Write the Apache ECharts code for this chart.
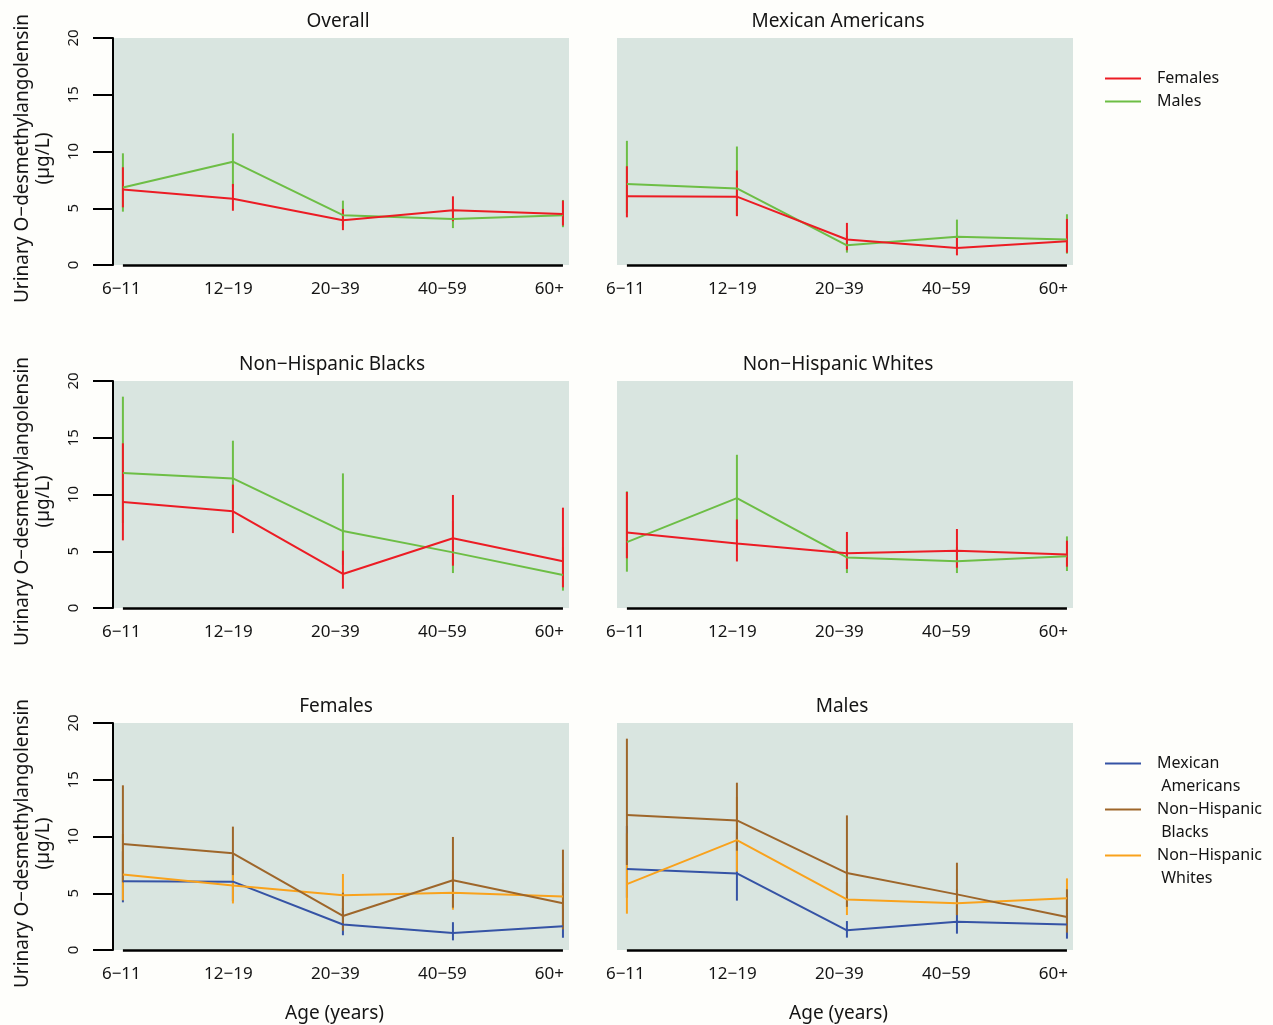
<!DOCTYPE html>
<html>
<head>
<meta charset="utf-8">
<title>Urinary O-desmethylangolensin by age group</title>
<script src="https://cdn.jsdelivr.net/npm/echarts@6/dist/echarts.min.js"></script>
<style>
  html, body { margin: 0; padding: 0; background: #fefefb; }
  #chart { width: 1273px; height: 1025px; }
</style>
</head>
<body>
<div id="chart"></div>
<script>
// Age groups on the x axis
const ageGroups = ['6\u221211', '12\u221219', '20\u221239', '40\u221259', '60+'];
const yTicks = [0, 5, 10, 15, 20];

// Overall
const overallFemales     = [6.65, 5.83, 3.95, 4.82, 4.50];
const overallFemalesLow  = [5.08, 4.78, 3.07, 3.86, 3.48];
const overallFemalesHigh = [8.61, 7.14, 4.94, 6.05, 5.67];
const overallMales       = [6.82, 9.10, 4.39, 4.06, 4.39];
const overallMalesLow    = [4.70, 6.90, 3.40, 3.25, 3.33];
const overallMalesHigh   = [9.84, 11.60, 5.67, 5.00, 5.73];

// Mexican Americans
const mexFemales     = [6.05, 6.02, 2.25, 1.49, 2.10];
const mexFemalesLow  = [4.20, 4.30, 1.30, 0.85, 1.08];
const mexFemalesHigh = [8.70, 8.33, 3.71, 2.45, 4.06];
const mexMales       = [7.13, 6.75, 1.73, 2.49, 2.25];
const mexMalesLow    = [4.60, 4.35, 1.09, 1.44, 1.00];
const mexMalesHigh   = [10.94, 10.44, 2.55, 4.00, 4.47];

// Non-Hispanic Blacks
const blkFemales     = [9.34, 8.52, 3.00, 6.14, 4.11];
const blkFemalesLow  = [5.96, 6.60, 1.70, 3.73, 1.82];
const blkFemalesHigh = [14.51, 10.87, 5.05, 9.96, 8.84];
const blkMales       = [11.89, 11.42, 6.78, 4.90, 2.90];
const blkMalesLow    = [7.49, 8.75, 3.80, 3.08, 1.53];
const blkMalesHigh   = [18.62, 14.74, 11.86, 7.69, 5.35];

// Non-Hispanic Whites
const whtFemales     = [6.65, 5.68, 4.82, 5.05, 4.72];
const whtFemalesLow  = [4.38, 4.10, 3.44, 3.55, 3.64];
const whtFemalesHigh = [10.22, 7.80, 6.70, 6.96, 5.93];
const whtMales       = [5.80, 9.68, 4.46, 4.11, 4.55];
const whtMalesLow    = [3.20, 6.90, 3.08, 3.08, 3.26];
const whtMalesHigh   = [10.28, 13.50, 6.00, 5.40, 6.31];

// ---- styling ----
const FONT = '"Noto Sans", "DejaVu Sans", sans-serif';
const RED = '#ec1c24', GREEN = '#6dbe45';
const BLUE = '#3553a5', BROWN = '#9e662a', ORANGE = '#f9a21c';
const PANEL_BG = '#d9e5e0';
const TEXT = '#141414';
const Y_TITLE = 'Urinary O\u2212desmethylangolensin\n(\u00b5g/L)';

const ROW_TOP = [38, 381, 723];
const COL_LEFT = [113, 617];
const GRID_W = 456, GRID_H = 227;
const X_MIN = -0.09, X_MAX = 4.055;
// age labels sit on a slightly tighter spacing than the plotted groups
const LABEL_OFFSET = -0.014, LABEL_STEP = 0.9727;

const panels = [
  { title: 'Overall', titleX: 338, row: 0, col: 0, groups: [
    { name: 'Males', color: GREEN, v: overallMales, lo: overallMalesLow, hi: overallMalesHigh },
    { name: 'Females', color: RED, v: overallFemales, lo: overallFemalesLow, hi: overallFemalesHigh } ] },
  { title: 'Mexican Americans', titleX: 838, row: 0, col: 1, groups: [
    { name: 'Males', color: GREEN, v: mexMales, lo: mexMalesLow, hi: mexMalesHigh },
    { name: 'Females', color: RED, v: mexFemales, lo: mexFemalesLow, hi: mexFemalesHigh } ] },
  { title: 'Non\u2212Hispanic Blacks', titleX: 332, row: 1, col: 0, groups: [
    { name: 'Males', color: GREEN, v: blkMales, lo: blkMalesLow, hi: blkMalesHigh },
    { name: 'Females', color: RED, v: blkFemales, lo: blkFemalesLow, hi: blkFemalesHigh } ] },
  { title: 'Non\u2212Hispanic Whites', titleX: 838, row: 1, col: 1, groups: [
    { name: 'Males', color: GREEN, v: whtMales, lo: whtMalesLow, hi: whtMalesHigh },
    { name: 'Females', color: RED, v: whtFemales, lo: whtFemalesLow, hi: whtFemalesHigh } ] },
  { title: 'Females', titleX: 336, row: 2, col: 0, groups: [
    { name: 'Mexican Americans', color: BLUE, v: mexFemales, lo: mexFemalesLow, hi: mexFemalesHigh },
    { name: 'Non\u2212Hispanic Whites', color: ORANGE, v: whtFemales, lo: whtFemalesLow, hi: whtFemalesHigh },
    { name: 'Non\u2212Hispanic Blacks', color: BROWN, v: blkFemales, lo: blkFemalesLow, hi: blkFemalesHigh } ] },
  { title: 'Males', titleX: 842, row: 2, col: 1, groups: [
    { name: 'Mexican Americans', color: BLUE, v: mexMales, lo: mexMalesLow, hi: mexMalesHigh },
    { name: 'Non\u2212Hispanic Whites', color: ORANGE, v: whtMales, lo: whtMalesLow, hi: whtMalesHigh },
    { name: 'Non\u2212Hispanic Blacks', color: BROWN, v: blkMales, lo: blkMalesLow, hi: blkMalesHigh } ] }
];

// vertical confidence-interval segment for one age group
function renderErrorBar(params, api) {
  const x = api.value(0);
  const a = api.coord([x, api.value(1)]);
  const b = api.coord([x, api.value(2)]);
  return {
    type: 'line',
    shape: { x1: a[0], y1: a[1], x2: b[0], y2: b[1] },
    style: { stroke: api.visual('color'), lineWidth: 2 }
  };
}

// black base line drawn from the first to the last age group
const baseLine = {
  silent: true,
  symbol: ['none', 'none'],
  label: { show: false },
  emphasis: { disabled: true },
  lineStyle: { color: '#000', width: 2.5, type: 'solid' },
  data: [[{ coord: [0, 0] }, { coord: [ageGroups.length - 1, 0] }]]
};

const series = [];
panels.forEach((p, i) => {
  p.groups.forEach((g, k) => {
    series.push({
      type: 'line', name: g.name, xAxisIndex: i, yAxisIndex: i,
      data: g.v.map((v, j) => [j, v]),
      symbol: 'none', showSymbol: false, clip: false, silent: true,
      lineStyle: { color: g.color, width: 2 },
      itemStyle: { color: g.color },
      emphasis: { disabled: true },
      markLine: k === 0 ? baseLine : undefined
    });
    series.push({
      type: 'custom', name: g.name, xAxisIndex: i, yAxisIndex: i,
      data: g.v.map((v, j) => [j, g.lo[j], g.hi[j]]),
      encode: { x: 0, y: [1, 2] },
      renderItem: renderErrorBar, silent: true,
      itemStyle: { color: g.color }
    });
  });
});

const option = {
  animation: false,
  backgroundColor: '#fefefb',
  textStyle: { fontFamily: FONT },
  title: panels.map(p => ({
    text: p.title, left: p.titleX, top: ROW_TOP[p.row] - 26, textAlign: 'center', padding: 0,
    textStyle: { fontSize: 19, fontWeight: 'normal', color: TEXT, fontFamily: FONT }
  })),
  grid: panels.map(p => ({
    left: COL_LEFT[p.col], top: ROW_TOP[p.row], width: GRID_W, height: GRID_H,
    show: true, backgroundColor: PANEL_BG, borderWidth: 0,
    containLabel: false, outerBoundsMode: 'none'
  })),
  xAxis: panels.map((p, i) => ({
    gridIndex: i, type: 'value', min: X_MIN, max: X_MAX,
    axisLine: { show: false }, axisTick: { show: false }, splitLine: { show: false },
    axisLabel: {
      customValues: ageGroups.map((_, j) => LABEL_OFFSET + j * LABEL_STEP),
      formatter: v => ageGroups[Math.round((v - LABEL_OFFSET) / LABEL_STEP)],
      fontSize: 17, color: TEXT, margin: 16, fontFamily: FONT
    },
    name: p.row === 2 ? 'Age (years)' : '',
    nameLocation: 'middle', nameGap: 54, nameMoveOverlap: false,
    nameTextStyle: { fontSize: 19, color: TEXT, fontFamily: FONT, padding: [0, 13, 0, 0] }
  })),
  yAxis: panels.map((p, i) => ({
    gridIndex: i, type: 'value', min: yTicks[0], max: yTicks[yTicks.length - 1], interval: 5,
    axisLine: { show: p.col === 0, onZero: false, lineStyle: { color: '#000', width: 2 } },
    axisTick: { show: p.col === 0, length: 20, inside: false, lineStyle: { color: '#000', width: 2 } },
    axisLabel: { show: p.col === 0, rotate: 90, margin: 32, fontSize: 15, color: TEXT, fontFamily: FONT },
    splitLine: { show: false },
    name: p.col === 0 ? Y_TITLE : '',
    nameLocation: 'middle', nameGap: 59, nameRotate: 90, nameMoveOverlap: false,
    nameTextStyle: { fontSize: 19, lineHeight: 21, color: TEXT, align: 'center', fontFamily: FONT, padding: [0, 14, 0, 0] }
  })),
  legend: [
    {
      data: ['Females', 'Males'], orient: 'vertical', left: 1105, top: 67, padding: 0,
      itemGap: 0, itemWidth: 36, itemHeight: 2, icon: 'rect', selectedMode: false,
      textStyle: { fontSize: 16, lineHeight: 23, color: TEXT, fontFamily: FONT, padding: [0, 0, 0, 11] }
    },
    {
      data: ['Mexican Americans', 'Non\u2212Hispanic Blacks', 'Non\u2212Hispanic Whites'],
      orient: 'vertical', left: 1105, top: 729, padding: 0,
      itemGap: -23, itemWidth: 36, itemHeight: 2, icon: 'rect', selectedMode: false,
      // leading blank line keeps the first word level with the key line
      formatter: n => '\n' + n.replace(' ', '\n '),
      textStyle: { fontSize: 16, lineHeight: 23, color: TEXT, fontFamily: FONT, padding: [0, 0, 0, 11] }
    }
  ],
  series: series
};

const chart = echarts.init(document.getElementById('chart'), null, { renderer: 'canvas' });
chart.setOption(option);
</script>
</body>
</html>
